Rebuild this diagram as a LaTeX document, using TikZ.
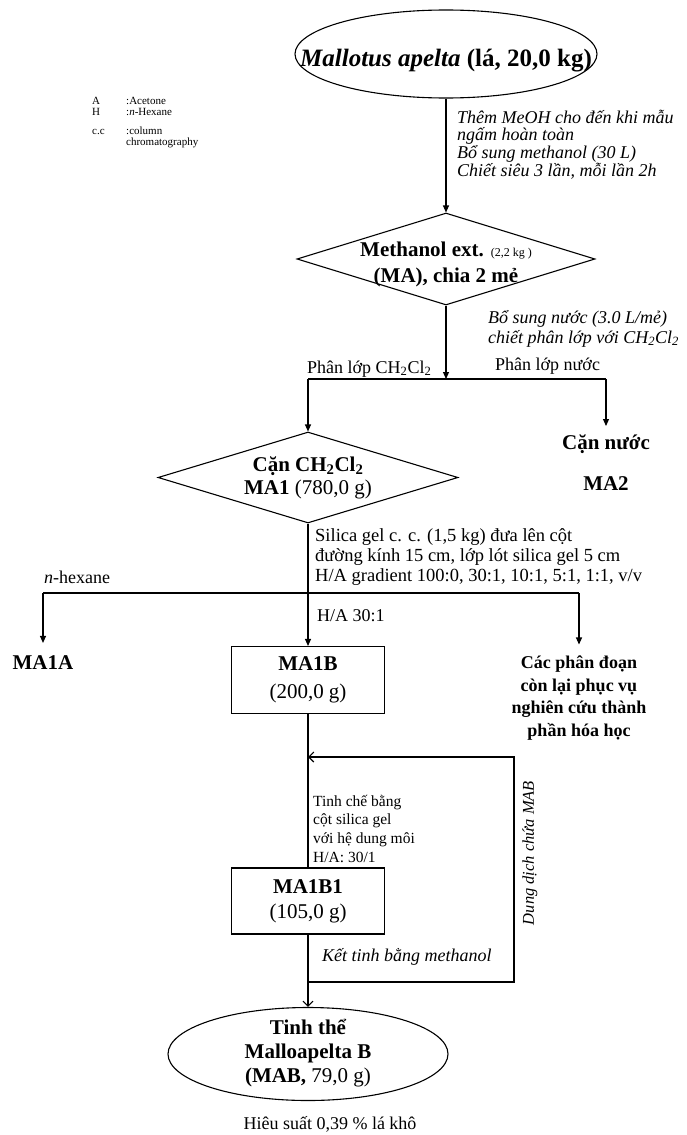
\documentclass[tikz,border=0pt]{standalone}
\usepackage{fontspec}
\setmainfont{Liberation Serif}
\usetikzlibrary{shapes.geometric,arrows.meta}
\newcommand\fsz[2]{\fontsize{#1}{#2}\selectfont}
\begin{document}
\begin{tikzpicture}[x=1pt,y=-1pt,
  ln/.style={line width=1.1pt},
  fa/.style={ln,-{Triangle[length=7pt,width=6pt]}},
  oa/.style={ln,-{Straight Barb[length=5pt,width=10pt]}},
  shp/.style={draw,line width=1.1pt,inner sep=0pt},
  txt/.style={inner sep=0pt,align=center},
  lt/.style={inner sep=0pt,anchor=base west,align=left},
  big/.style={font=\fsz{21}{24}\bfseries},
]
\fill[white] (0,0) rectangle (686,1135);
\useasboundingbox (0,0) rectangle (686,1135);

% legend
\node[lt,font=\fsz{11}{11}] (lgA) at (92,104) {A};
\node[lt,font=\fsz{11}{11}] (lgAv) at (126,104) {:Acetone};
\node[lt,font=\fsz{11}{11}] (lgH) at (92,115) {H};
\node[lt,font=\fsz{11}{11}] (lgHv) at (126,115) {:\textit{n}-Hexane};
\node[lt,font=\fsz{11}{11}] (lgC) at (92,134) {c.c};
\node[lt,font=\fsz{11}{11}] (lgCv) at (126,145) {:column\\chromatography};

% top ellipse
\node[shp,ellipse,minimum width=302,minimum height=88] (e1) at (446,54) {};
\node[txt,font=\fsz{25}{28}\bfseries] (e1t) at (446,61) {\textit{Mallotus apelta} (lá, 20,0 kg)};

\node[lt,font=\fsz{18}{17.8}\itshape] (t1) at (457,176.4) {Thêm MeOH cho đến khi mẫu\\ngấm hoàn toàn\\Bổ sung methanol (30 L)\\Chiết siêu 3 lần, mỗi lần 2h};

% diamond 1
\node[shp,diamond,minimum width=298,minimum height=92] (d1) at (446,259) {};
\node[txt,font=\fsz{21}{26}\bfseries] (d1t) at (446,264) {Methanol ext. {\mdseries\fsz{12}{26}(2,2 kg )}\\(MA), chia 2 mẻ};
\draw[fa] (e1.south) -- (d1.north);

\node[lt,font=\fsz{18}{20}\itshape] (bs) at (488,343) {Bổ sung nước (3.0 L/mẻ)\\chiết phân lớp với CH\textsubscript{2}Cl\textsubscript{2}};

\coordinate (s1) at (446,379);
\coordinate (s1L) at (308,379);
\coordinate (s1R) at (606,379);
\draw[fa] (d1.south) -- (s1);
\draw[ln] (s1L) -- (s1R);
\node[lt,font=\fsz{18}{18}] (pl1) at (307,373) {Phân lớp CH\textsubscript{2}Cl\textsubscript{2}};
\node[lt,font=\fsz{18}{18}] (pl2) at (495,370) {Phân lớp nước};

% diamond 2
\node[shp,diamond,minimum width=300,minimum height=91] (d2) at (308,477.5) {};
\node[txt,font=\fsz{21}{23}\bfseries] (d2t) at (308,478) {Cặn CH\textsubscript{2}Cl\textsubscript{2}\\MA1 {\mdseries(780,0 g)}};
\draw[fa] (s1L) -- (d2.north);

\node[txt,big,anchor=base] (cn) at (606,449) {Cặn nước};
\node[txt,big,anchor=base] (ma2) at (606,490) {MA2};
\draw[fa] (s1R) -- ([yshift=8pt]cn.north);

\node[lt,font=\fsz{18.5}{20}] (sg) at (315,581) {Silica gel c. c. (1,5 kg) đưa lên cột\\đường kính 15 cm, lớp lót silica gel 5 cm\\H/A gradient 100:0, 30:1, 10:1, 5:1, 1:1, v/v};

\coordinate (s2) at (308,593);
\coordinate (s2L) at (43,593);
\coordinate (s2R) at (579,593);
\draw[ln] (d2.south) -- (s2);
\draw[ln] (s2L) -- (s2R);
\node[lt,font=\fsz{18}{18}] (nh) at (44,583) {\textit{n}-hexane};
\node[lt,font=\fsz{18}{18}] (ha) at (317,621) {H/A 30:1};

\node[txt,big,anchor=base] (ma1a) at (43,669) {MA1A};
\draw[fa] (s2L) -- ([yshift=12pt]ma1a.north);

\node[shp,rectangle,minimum width=153,minimum height=67,align=center,font=\fsz{21}{28}] (b1) at (308,680) {\textbf{MA1B}\\(200,0 g)};
\draw[fa] (s2) -- (b1.north);

\node[txt,font=\fsz{18}{22.7}\bfseries] (cp) at (579,698) {Các phân đoạn\\còn lại phục vụ\\nghiên cứu thành\\phần hóa học};
\draw[fa] (s2R) -- ([yshift=11pt]cp.north);

% MA1B1
\node[shp,rectangle,minimum width=153,minimum height=66,align=center,font=\fsz{21}{25}] (b2) at (308,901) {\textbf{MA1B1}\\(105,0 g)};
\draw[ln] (b1.south) -- (b2.north);
\node[lt,font=\fsz{15.5}{18.8}] (tc) at (313,862.4) {Tinh chế bằng\\cột silica gel\\với hệ dung môi\\H/A: 30/1};

% bottom ellipse
\node[shp,ellipse,minimum width=280,minimum height=93] (e2) at (308,1054) {};
\node[txt,font=\fsz{21}{24}\bfseries] (e2t) at (308,1053) {Tinh thể\\Malloapelta B\\(MAB, {\mdseries 79,0 g)}};
\draw[oa] (b2.south) -- (e2.north);

\node[lt,font=\fsz{18}{18}\itshape] (kt) at (322,961) {Kết tinh bằng methanol};

% feedback loop
\coordinate (fb) at (308,982);
\coordinate (fbR) at (514,982);
\coordinate (fbT) at (514,757);
\coordinate (fbL) at (308,757);
\draw[oa] (fb) -- (fbR) -- (fbT) -- (fbL);
\node[inner sep=0pt,rotate=90,font=\fsz{16.5}{16.5}\itshape] (dd) at (530,853) {Dung dịch chứa MAB};

\node[inner sep=0pt,font=\fsz{18}{18}] (hs) at (330,1124) {Hiêu suất 0,39 \% lá khô};
\end{tikzpicture}
\end{document}
